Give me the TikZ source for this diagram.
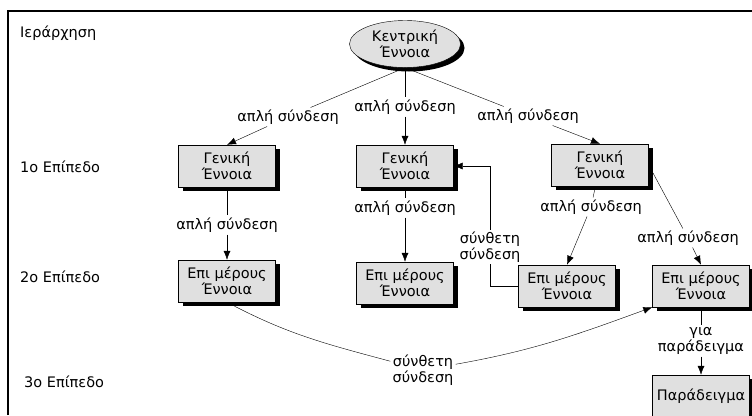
\documentclass[tikz,border=0pt]{standalone}
\usepackage{fontspec}
\setmainfont{DejaVu Sans}
\usetikzlibrary{arrows.meta,shapes.geometric,shadows,positioning}
\definecolor{conceptgray}{RGB}{224,224,224}

\begin{document}
\begin{tikzpicture}[x=1pt,y=-1pt,font=\fontsize{14.5}{15.5}\selectfont,
    arj/.style={-{Latex[length=9pt,width=7pt]}},
    shade/.style={drop shadow={shadow xshift=4pt,shadow yshift=-4pt,fill=black,opacity=1}},
    concept/.style={draw,fill=conceptgray,shade,align=center,minimum width=97pt,minimum height=42pt,inner sep=1pt},
    link/.style={align=center,inner sep=2pt},
    level/.style={anchor=west,inner sep=0pt}]
\useasboundingbox (0,0) rectangle (752,415);
\draw[line width=2pt] (8,415) -- (8,11) -- (752,11);
\path node[level] (hier) at (20,33) {Ιεράρχηση}
    node[level] (lev1) at (20,167) {1ο Επίπεδο}
    node[level] (lev2) at (20,277) {2ο Επίπεδο}
    node[level] (lev3) at (24,382) {3ο Επίπεδο};
\node[ellipse,draw,fill=conceptgray,shade,align=center,minimum width=111pt,minimum height=47pt,inner sep=0pt] (central) at (405,44) {Κεντρική\\Έννοια};
\path node[concept] (gen1) at (227,166) {Γενική\\Έννοια}
    node[concept] (gen2) at (405,166) {Γενική\\Έννοια}
    node[concept] (gen3) at (600,165) {Γενική\\Έννοια}
    node[concept] (part1) at (227,281) {Επι μέρους\\Έννοια}
    node[concept] (part2) at (405,283) {Επι μέρους\\Έννοια}
    node[concept] (part3) at (567,286) {Επι μέρους\\Έννοια}
    node[concept] (part4) at (701,286) {Επι μέρους\\Έννοια}
    node[concept] (example) at (701,396) {Παράδειγμα};
\path node[link] (l1) at (288,117) {απλή σύνδεση}
    node[link] (l2) at (405,107) {απλή σύνδεση}
    node[link] (l3) at (528,116) {απλή σύνδεση}
    node[link] (l4) at (227,225) {απλή σύνδεση}
    node[link] (l5) at (405,208) {απλή σύνδεση}
    node[link] (l6) at (591,207) {απλή σύνδεση}
    node[link] (l7) at (688,238) {απλή σύνδεση}
    node[link] (l8) at (490,247) {σύνθετη\\σύνδεση}
    node[link] (l9) at (423,370) {σύνθετη\\σύνδεση}
    node[link] (l10) at (701,341) {για\\παράδειγμα};
\draw (central.south) -- (l1); \draw[arj] (l1) -- (gen1.north);
\draw (central.south) -- (l2); \draw[arj] (l2) -- (gen2);
\draw (central.south) -- (l3); \draw[arj] (l3) -- (gen3.north);
\draw (gen1) -- (l4); \draw[arj] (l4) -- (part1);
\draw (gen2) -- (l5); \draw[arj] (l5) -- (part2);
\draw (gen3) -- (l6); \draw[arj] (l6) -- (part3.north);
\draw (gen3.east) -- (l7); \draw[arj] (l7) -- (part4.north);
\draw (part3.west) -| (l8); \draw[arj] (l8) |- (gen2.east);
\draw (part1.south) to[out=-28,in=165] (l9);
\draw[arj] (l9) to[out=10,in=200] (part4.south west);
\draw (part4) -- (l10); \draw[arj] (l10) -- (example);
\end{tikzpicture}
\end{document}
